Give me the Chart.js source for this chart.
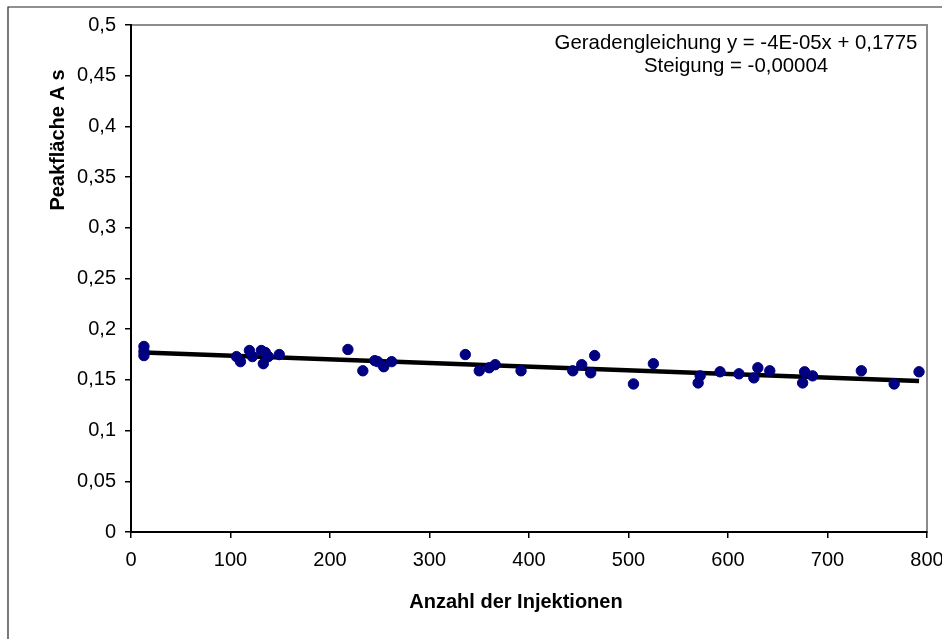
<!DOCTYPE html>
<html>
<head>
<meta charset="utf-8">
<title>Peakfläche über Anzahl der Injektionen</title>
<script src="https://cdn.jsdelivr.net/npm/chart.js@4.4.1/dist/chart.umd.min.js"></script>
<style>
  html, body { margin: 0; padding: 0; background: #fff; }
  canvas { display: block; }
</style>
</head>
<body>
<canvas id="peakChart" width="942" height="639"></canvas>
<script>
// Messwerte: Anzahl der Injektionen / Peakfläche (A s)
var injektionen = [13, 13, 13, 106, 110, 119, 122, 131, 133, 135, 138, 149,
  218, 233, 245, 248, 254, 262, 336, 350, 360, 366, 392, 444, 453, 462, 466,
  505, 525, 570, 572, 592, 611, 626, 630, 642, 675, 677, 685, 734, 767, 792];
var peakflaeche = [0.183, 0.178, 0.174, 0.173, 0.168, 0.179, 0.173, 0.179, 0.166, 0.177, 0.173, 0.175,
  0.180, 0.159, 0.169, 0.168, 0.163, 0.168, 0.175, 0.159, 0.162, 0.165, 0.159, 0.159, 0.165, 0.157, 0.174,
  0.146, 0.166, 0.147, 0.154, 0.158, 0.156, 0.152, 0.162, 0.159, 0.147, 0.158, 0.154, 0.159, 0.146, 0.158];

// lineare Trendlinie
var steigung = -0.000036;
var achsenabschnitt = 0.1775;

var xTickLabels = ["0", "100", "200", "300", "400", "500", "600", "700", "800"];
var yTickLabels = ["0", "0,05", "0,1", "0,15", "0,2", "0,25", "0,3", "0,35", "0,4", "0,45", "0,5"];
var gleichungText = ["Geradengleichung y = -4E-05x + 0,1775", "Steigung = -0,00004"];

var FONT = "'Liberation Sans', Arial, Helvetica, sans-serif";

var punkte = injektionen.map(function(x, i) { return { x: x, y: peakflaeche[i] }; });
var xMin = Math.min.apply(null, injektionen);
var xMax = Math.max.apply(null, injektionen);
var trend = [
  { x: xMin, y: achsenabschnitt + steigung * xMin },
  { x: xMax, y: achsenabschnitt + steigung * xMax }
];

// Rahmen, Achsentitel und Gleichung
var rahmenPlugin = {
  id: "rahmen",
  beforeDraw: function(chart) {
    var ctx = chart.ctx, a = chart.chartArea;
    ctx.save();
    ctx.fillStyle = "#fff";
    ctx.fillRect(0, 0, chart.width, chart.height);
    // äußerer Rahmen (oben, links)
    ctx.strokeStyle = "#222";
    ctx.lineWidth = 1.2;
    ctx.beginPath();
    ctx.moveTo(8, chart.height);
    ctx.lineTo(8, 7);
    ctx.lineTo(chart.width, 7);
    ctx.stroke();
    // Zeichenfläche
    ctx.strokeStyle = "#8c8c8c";
    ctx.lineWidth = 2;
    ctx.strokeRect(a.left, a.top, a.right - a.left, a.bottom - a.top);
    ctx.restore();
  },
  afterDraw: function(chart) {
    var ctx = chart.ctx;
    ctx.save();
    ctx.fillStyle = "#000";
    ctx.font = "bold 20px " + FONT;
    ctx.textAlign = "center";
    ctx.textBaseline = "middle";
    ctx.fillText("Anzahl der Injektionen", 516, 602);
    ctx.translate(58, 140);
    ctx.rotate(-Math.PI / 2);
    ctx.fillText("Peakfläche A s", 0, 0);
    ctx.restore();

    ctx.save();
    ctx.fillStyle = "#000";
    ctx.font = "20.4px " + FONT;
    ctx.textAlign = "center";
    ctx.textBaseline = "alphabetic";
    ctx.fillText(gleichungText[0], 736, 49);
    ctx.fillText(gleichungText[1], 736, 72);
    ctx.restore();
  }
};

var ctx = document.getElementById("peakChart");

var chart = new Chart(ctx, {
  type: "scatter",
  data: {
    datasets: [
      {
        label: "Peakfläche",
        data: punkte,
        backgroundColor: "#000080",
        borderColor: "#000080",
        pointRadius: 5.2,
        pointHoverRadius: 5.2,
        order: 1
      },
      {
        label: "Linear",
        type: "line",
        data: trend,
        borderColor: "#000",
        borderWidth: 4.5,
        pointRadius: 0,
        fill: false,
        order: 2
      }
    ]
  },
  options: {
    responsive: false,
    animation: false,
    layout: { padding: { left: 0, top: 25, right: 15, bottom: 0 } },
    plugins: {
      legend: { display: false },
      tooltip: { enabled: false }
    },
    scales: {
      x: {
        type: "linear",
        min: 0,
        max: 800,
        afterFit: function(scale) {
          scale.height = 107;
          scale.paddingLeft = 0;
          scale.paddingRight = 0;
        },
        border: { color: "#000", width: 2 },
        grid: { drawOnChartArea: false, tickLength: 6, color: "#000", lineWidth: 1.5 },
        ticks: {
          stepSize: 100,
          padding: 10,
          color: "#000",
          font: { family: FONT, size: 20 },
          maxRotation: 0,
          callback: function(v, i) { return xTickLabels[i]; }
        }
      },
      y: {
        min: 0,
        max: 0.5,
        afterFit: function(scale) {
          scale.width = 131;
          scale.paddingTop = 0;
          scale.paddingBottom = 0;
        },
        border: { color: "#000", width: 2 },
        grid: { drawOnChartArea: false, tickLength: 6, color: "#000", lineWidth: 1.5 },
        ticks: {
          stepSize: 0.05,
          padding: 9,
          color: "#000",
          font: { family: FONT, size: 20 },
          callback: function(v, i) { return yTickLabels[i]; }
        }
      }
    }
  },
  plugins: [rahmenPlugin]
});
</script>
</body>
</html>
